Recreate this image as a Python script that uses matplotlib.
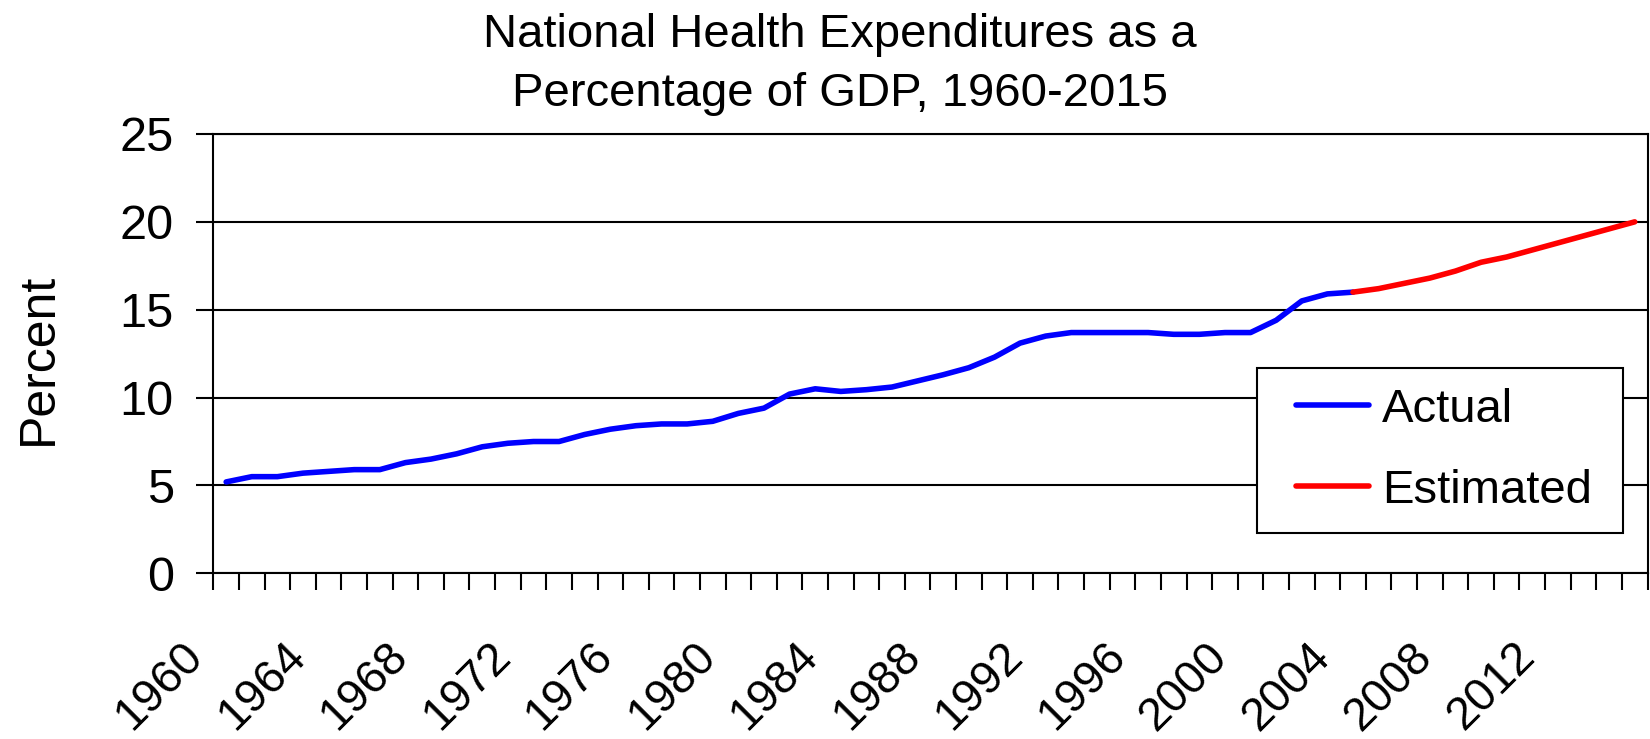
"""
National Health Expenditures as a Percentage of GDP, 1960-2015
"""
import numpy as np
import matplotlib
matplotlib.use('Agg')
import matplotlib.pyplot as plt
from matplotlib.lines import Line2D
from matplotlib.legend_handler import HandlerLine2D
from matplotlib.transforms import ScaledTranslation

plt.rcParams['font.family'] = ['Liberation Sans', 'DejaVu Sans']

# data
years = list(range(1960, 2016))
actual_years = list(range(1960, 2005))
actual = [5.2, 5.5, 5.5, 5.7, 5.8, 5.9, 5.9, 6.3, 6.5, 6.8,
          7.2, 7.4, 7.5, 7.5, 7.9, 8.2, 8.4, 8.5, 8.5, 8.65,
          9.1, 9.4, 10.2, 10.5, 10.35, 10.45, 10.6, 10.95, 11.3, 11.7,
          12.3, 13.1, 13.5, 13.7, 13.7, 13.7, 13.7, 13.6, 13.6, 13.7,
          13.7, 14.4, 15.5, 15.9, 16.0]
estimated_years = list(range(2004, 2016))
estimated = [16.0, 16.2, 16.5, 16.8, 17.2, 17.7, 18.0, 18.4, 18.8, 19.2, 19.6, 20.0]
year_labels = [str(y) for y in years[::4]]
title_lines = ["National Health Expenditures as a", "Percentage of GDP, 1960-2015"]

fig = plt.figure(figsize=(16.5, 7.39), dpi=100)
ax = fig.add_axes([0.1293, 0.2242, 0.8692, 0.5945])

x_act = [years.index(y) for y in actual_years]
x_est = [years.index(y) for y in estimated_years]
ax.plot(x_act, actual, color='#0000ff', lw=4, solid_capstyle='round', label='Actual', zorder=3)
ax.plot(x_est, estimated, color='#ff0000', lw=4, solid_capstyle='round', label='Estimated', zorder=3)

# category axis: ticks between years, labels every 4th year
ax.set_xlim(-0.5, len(years) - 0.5)
ax.set_ylim(0, 25)
ax.set_yticks(np.arange(0, 26, 5))
ax.set_xticks(np.arange(-0.5, len(years)))
ax.set_xticks(np.arange(0, len(years), 4), labels=year_labels, minor=True)
ax.tick_params(axis='x', which='major', direction='out', length=12, width=1.5, labelbottom=False)
ax.tick_params(axis='x', which='minor', length=0, pad=55, labelsize=33.5)
ax.tick_params(axis='y', direction='out', length=12, width=1.5, pad=16.5, labelsize=35)
shift = ScaledTranslation(-29.5 / 100, 0, fig.dpi_scale_trans)
for lab in ax.xaxis.get_minorticklabels():
    lab.set_rotation(45)
    lab.set_ha('right')
    lab.set_va('center')
    lab.set_rotation_mode('anchor')
    lab.set_transform(lab.get_transform() + shift)

ax.yaxis.grid(True, color='black', lw=1.5)
ax.set_axisbelow(True)
for sp in ax.spines.values():
    sp.set_linewidth(1.5)
    sp.set_color('black')

ax.set_ylabel('Percent', fontsize=36)
ax.yaxis.set_label_coords(-0.1055, 0.488)

leg = ax.legend(loc='upper left', bbox_to_anchor=(0.7275, 0, 0.2552, 0.4669), mode='expand',
                borderaxespad=0, fontsize=34, borderpad=0.42, labelspacing=0.78,
                handlelength=1.955, handletextpad=0.28, fancybox=False,
                edgecolor='black', framealpha=1,
                handler_map={Line2D: HandlerLine2D(xpad=0.42)})
leg.get_frame().set_linewidth(1.5)

fig.text(0.509, 1 - 46.7 / 739, title_lines[0], ha='center', va='baseline', fontsize=34)
fig.text(0.509, 1 - 106 / 739, title_lines[1], ha='center', va='baseline', fontsize=34)

fig.savefig('out.png', dpi=100)
